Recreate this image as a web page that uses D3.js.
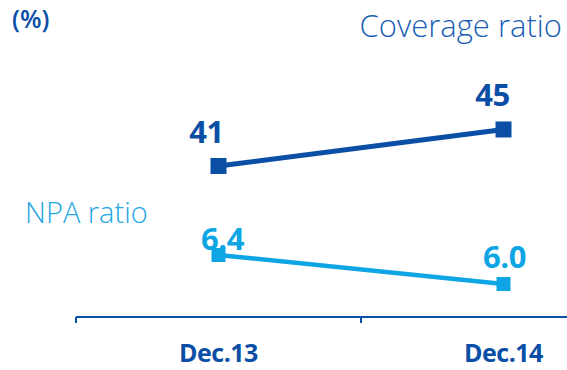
<!DOCTYPE html>
<html>
<head>
<meta charset="utf-8">
<script src="https://cdn.jsdelivr.net/npm/d3@7"></script>
<style>
  html, body { margin: 0; padding: 0; background: #fff; }
  svg { display: block; }
</style>
</head>
<body>
<svg id="chart" width="567" height="370"></svg>
<script>
// Periods on the x axis
const categories = ["Dec.13", "Dec.14"];
// Coverage ratio (%)
const coverageValues = [41, 45];
// NPA ratio (%)
const npaValues = [6.4, 6.0];

const DARK = "#0b4ea6";
const MID = "#1b5fb5";
const LIGHT = "#0ea5e5";
const LIGHT_TEXT = "#1ea6e3";

const svg = d3.select("#chart");

// Each period takes one band; the axis ticks sit on band edges
const x = d3.scaleBand().domain(categories).range([76, 646]).paddingInner(0).paddingOuter(0);
const cx = d => x(d) + x.bandwidth() / 2;

// Two independent vertical scales, one per ratio
const yCov = d3.scaleLinear().domain([40, 46]).range([175.1, 120.35]);
const yNpa = d3.scaleLinear().domain([5.5, 7]).range([320.25, 211.5]);

// Baseline axis
const axisY = 317;
svg.append("line")
  .attr("x1", x.range()[0]).attr("x2", x.range()[1])
  .attr("y1", axisY).attr("y2", axisY)
  .attr("stroke", DARK).attr("stroke-width", 2);
svg.selectAll(".tick").data(categories).join("line")
  .attr("class", "tick")
  .attr("x1", d => x(d)).attr("x2", d => x(d))
  .attr("y1", axisY).attr("y2", axisY + 6)
  .attr("stroke", DARK).attr("stroke-width", 2);
svg.selectAll(".cat").data(categories).join("text")
  .attr("class", "cat")
  .attr("x", d => cx(d)).attr("y", 362)
  .attr("text-anchor", "middle")
  .attr("font-family", "'Open Sans', sans-serif")
  .attr("font-weight", 700)
  .attr("font-size", 25)
  .attr("letter-spacing", -0.5)
  .attr("fill", DARK)
  .text(d => d);

// Unit label
svg.append("text")
  .attr("x", 12).attr("y", 28)
  .attr("font-family", "'Open Sans', sans-serif")
  .attr("font-weight", 600)
  .attr("font-size", 25)
  .attr("fill", DARK)
  .text("(%)");

// Series names
svg.append("text")
  .attr("x", 562).attr("y", 37)
  .attr("text-anchor", "end")
  .attr("font-family", "'Open Sans', sans-serif")
  .attr("font-weight", 300)
  .attr("font-size", 31)
  .attr("fill", MID)
  .text("Coverage ratio");

svg.append("text")
  .attr("x", 25).attr("y", 223)
  .attr("font-family", "'Open Sans', sans-serif")
  .attr("font-weight", 300)
  .attr("font-size", 29)
  .attr("fill", LIGHT_TEXT)
  .text("NPA ratio");

function drawSeries(values, y, color, size, width, fmt, labelDx, labelDy) {
  const pts = categories.map((c, i) => ({ c, v: values[i] }));
  const line = d3.line().x(d => cx(d.c)).y(d => y(d.v));
  svg.append("path").datum(pts)
    .attr("d", line)
    .attr("fill", "none")
    .attr("stroke", color)
    .attr("stroke-width", width);
  svg.append("g").selectAll("rect").data(pts).join("rect")
    .attr("x", d => cx(d.c) - size / 2)
    .attr("y", d => y(d.v) - size / 2)
    .attr("width", size).attr("height", size)
    .attr("fill", color);
  svg.append("g").selectAll("text").data(pts).join("text")
    .attr("x", (d, i) => cx(d.c) + labelDx[i])
    .attr("y", (d, i) => y(d.v) + labelDy[i])
    .attr("text-anchor", "middle")
    .attr("font-family", "'Open Sans', sans-serif")
    .attr("font-weight", 700)
    .attr("font-size", 31)
    .attr("letter-spacing", -0.5)
    .attr("fill", color)
    .text(d => fmt(d.v));
}

drawSeries(coverageValues, yCov, DARK, 16, 5, d3.format("d"), [-12, -11], [-23, -23.5]);
drawSeries(npaValues, yNpa, LIGHT, 14, 4.5, d3.format(".1f"), [4, 1], [-5, -16]);
</script>
</body>
</html>
